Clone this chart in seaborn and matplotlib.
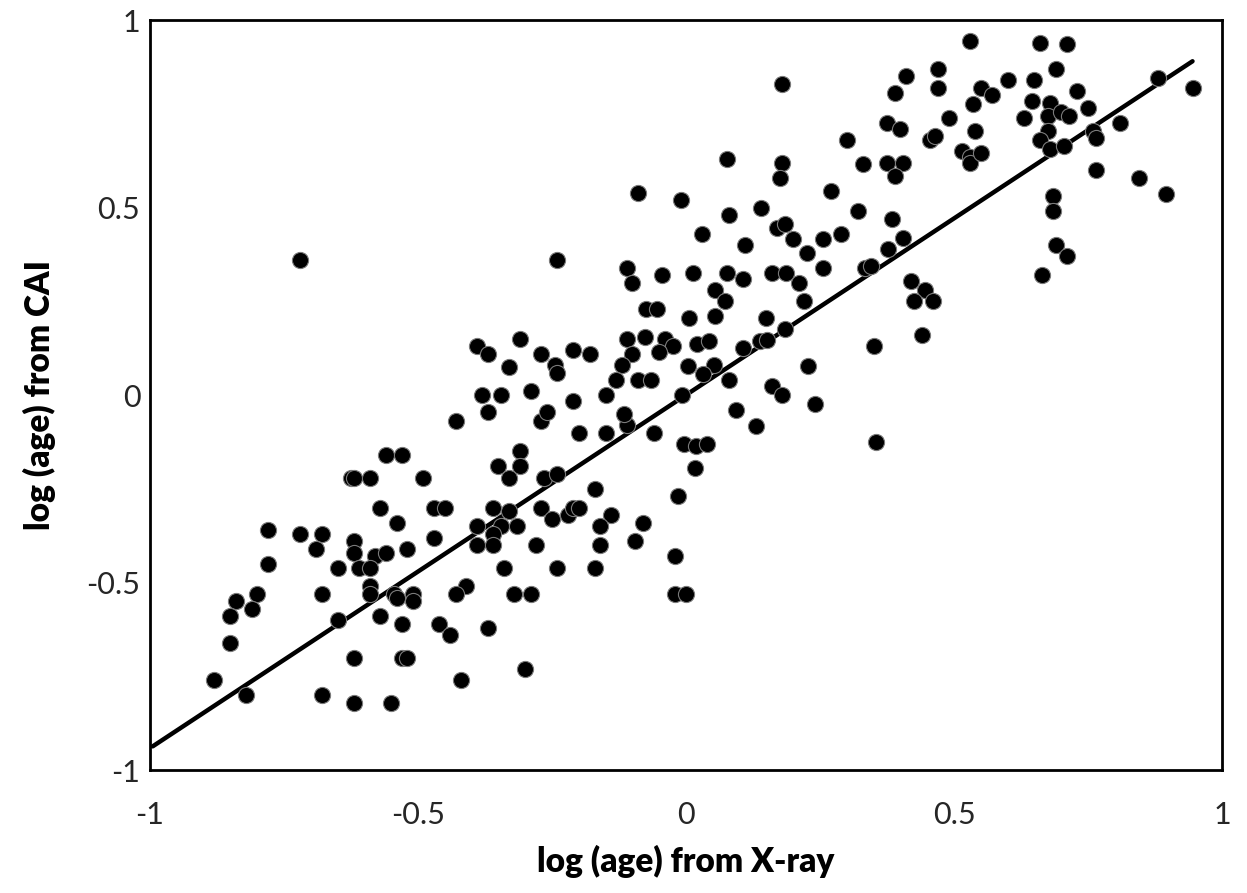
import matplotlib
matplotlib.use("Agg")
import matplotlib.pyplot as plt
import seaborn as sns
import pandas as pd

# log(age) from X-ray (x) and from CAI (y)
x_xray = [
    -0.56, -0.53, -0.625, -0.62, -0.59, -0.49, -0.57, -0.54, -0.78, -0.72, -0.68, -0.69,
    -0.62, -0.62, -0.58, -0.56, -0.52, -0.78, -0.65, -0.61, -0.59, -0.68, -0.59, -0.59,
    -0.545, -0.51, -0.51, -0.54, -0.80, -0.84, -0.81, -0.85, -0.57, -0.53, -0.65, -0.85,
    -0.62, -0.53, -0.52, -0.88, -0.82, -0.68, -0.62, -0.55,
    -0.72,
    -0.43, -0.27, -0.31, -0.35, -0.31, -0.33, -0.265, -0.24, -0.47, -0.45, -0.36, -0.33,
    -0.39, -0.345, -0.315, -0.36, -0.39, -0.36, -0.28, -0.27, -0.25, -0.47, -0.34, -0.24,
    -0.41, -0.43, -0.32, -0.29, -0.46, -0.44, -0.37, -0.30, -0.42,
    -0.20, -0.15, -0.11, -0.06, -0.17, -0.015, -0.22, -0.21, -0.20, -0.14, -0.16, -0.08,
    -0.16, -0.095, -0.02, -0.17, -0.02, 0.0,
    -0.24, -0.39, -0.37, -0.31, -0.27, -0.33, -0.245, -0.24, -0.38, -0.345, -0.29, -0.37,
    -0.26,
    -0.09, -0.01, -0.11, -0.10, -0.045, -0.075, -0.054, -0.11, -0.076, -0.04, -0.025,
    -0.05, -0.10, -0.21, -0.18, -0.12, -0.13, -0.09, -0.065, -0.21, -0.15, -0.115,
    0.18, 0.076, 0.18, 0.175, 0.14, 0.08, 0.03, 0.17, 0.185, 0.20, 0.225, 0.11, 0.013,
    0.076, 0.106, 0.16, 0.187, 0.21,
    0.054, 0.073, 0.22, 0.006, 0.054, 0.15, 0.185, 0.02, 0.043, 0.106, 0.138, 0.151,
    0.004, 0.052, 0.032, 0.08, 0.228, 0.16, 0.18, -0.007, 0.093, 0.13, -0.004, 0.019,
    0.039, 0.017,
    0.41, 0.47, 0.47, 0.39, 0.375, 0.40, 0.30, 0.455, 0.465, 0.33, 0.375, 0.405, 0.39,
    0.27, 0.32, 0.385, 0.29, 0.255, 0.405, 0.377, 0.255, 0.334, 0.345, 0.42,
    0.445, 0.425, 0.46, 0.44, 0.35, 0.24, 0.355,
    0.53, 0.66, 0.71, 0.69, 0.60, 0.65, 0.55, 0.57, 0.535, 0.645, 0.68, 0.675, 0.70,
    0.715, 0.49, 0.63, 0.54, 0.675, 0.66, 0.68, 0.705, 0.515, 0.53, 0.53, 0.55, 0.685,
    0.685, 0.69, 0.71, 0.665,
    0.73, 0.75, 0.88, 0.945, 0.81, 0.76, 0.765, 0.765, 0.845, 0.895,
]
y_cai = [
    -0.16, -0.16, -0.22, -0.22, -0.22, -0.22, -0.30, -0.34, -0.36, -0.37, -0.37, -0.41,
    -0.39, -0.42, -0.43, -0.42, -0.41, -0.45, -0.46, -0.46, -0.46, -0.53, -0.51, -0.53,
    -0.53, -0.53, -0.55, -0.54, -0.53, -0.55, -0.57, -0.59, -0.59, -0.61, -0.60, -0.66,
    -0.70, -0.70, -0.70, -0.76, -0.80, -0.80, -0.82, -0.82,
    0.36,
    -0.07, -0.07, -0.15, -0.19, -0.19, -0.22, -0.22, -0.21, -0.30, -0.30, -0.30, -0.31,
    -0.35, -0.35, -0.35, -0.37, -0.40, -0.40, -0.40, -0.30, -0.33, -0.38, -0.46, -0.46,
    -0.51, -0.53, -0.53, -0.53, -0.61, -0.64, -0.62, -0.73, -0.76,
    -0.10, -0.10, -0.08, -0.10, -0.25, -0.27, -0.32, -0.30, -0.30, -0.32, -0.35, -0.34,
    -0.40, -0.39, -0.43, -0.46, -0.53, -0.53,
    0.36, 0.13, 0.11, 0.15, 0.11, 0.075, 0.08, 0.06, 0.0, 0.0, 0.01, -0.045,
    -0.045,
    0.54, 0.52, 0.34, 0.30, 0.32, 0.23, 0.23, 0.15, 0.155, 0.15, 0.13,
    0.115, 0.11, 0.12, 0.11, 0.08, 0.04, 0.04, 0.04, -0.015, 0.0, -0.05,
    0.83, 0.63, 0.62, 0.58, 0.50, 0.48, 0.43, 0.445, 0.455, 0.415, 0.38, 0.40, 0.325,
    0.325, 0.31, 0.325, 0.325, 0.30,
    0.28, 0.25, 0.25, 0.205, 0.21, 0.205, 0.175, 0.135, 0.145, 0.125, 0.145, 0.147,
    0.077, 0.08, 0.056, 0.04, 0.077, 0.025, 0.0, 0.0, -0.04, -0.083, -0.13, -0.135,
    -0.13, -0.195,
    0.85, 0.87, 0.82, 0.805, 0.725, 0.71, 0.68, 0.68, 0.69, 0.615, 0.62, 0.62, 0.585,
    0.545, 0.49, 0.47, 0.43, 0.415, 0.42, 0.39, 0.34, 0.34, 0.345, 0.305,
    0.28, 0.25, 0.25, 0.16, 0.13, -0.025, -0.125,
    0.945, 0.94, 0.935, 0.87, 0.84, 0.84, 0.82, 0.80, 0.775, 0.785, 0.78, 0.745, 0.755,
    0.745, 0.74, 0.74, 0.705, 0.705, 0.68, 0.655, 0.665, 0.65, 0.635, 0.62, 0.645, 0.53,
    0.49, 0.40, 0.37, 0.32,
    0.81, 0.765, 0.845, 0.82, 0.725, 0.705, 0.685, 0.60, 0.58, 0.535,
]

# trend line end points
line_x = [-0.995, 0.945]
line_y = [-0.937, 0.890]

tick_vals = [-1, -0.5, 0, 0.5, 1]
tick_labels = ["-1", "-0.5", "0", "0.5", "1"]
xlabel = "log (age) from X-ray"
ylabel = "log (age) from CAI"

sns.set_theme(style="white")
plt.rcParams["font.family"] = ["Lato", "DejaVu Sans"]

df = pd.DataFrame({"x": x_xray, "y": y_cai})
fig = plt.figure(figsize=(12.47, 8.93), dpi=100)
ax = fig.add_axes([150 / 1247, (893 - 770) / 893, 1072 / 1247, 750 / 893])

sns.scatterplot(data=df, x="x", y="y", ax=ax, s=135, color="black",
                edgecolor="#7a7a7a", linewidth=0.8, zorder=3)
sns.lineplot(x=line_x, y=line_y, ax=ax, color="black", linewidth=3.2, zorder=2)

ax.set_xlim(-1, 1)
ax.set_ylim(-1, 1)
ax.set_xticks(tick_vals)
ax.set_xticklabels(tick_labels)
ax.set_yticks(tick_vals)
ax.set_yticklabels(tick_labels)
ax.tick_params(axis="both", labelsize=22, labelcolor="#262626", length=0)
ax.tick_params(axis="x", pad=22)
ax.tick_params(axis="y", pad=7)
ax.set_xlabel(xlabel, fontsize=24, fontweight="heavy", color="black", labelpad=12)
ax.set_ylabel(ylabel, fontsize=24, fontweight="heavy", color="black", labelpad=22)
for sp in ax.spines.values():
    sp.set_color("black")
    sp.set_linewidth(2)

fig.savefig("out.png", dpi=100)
